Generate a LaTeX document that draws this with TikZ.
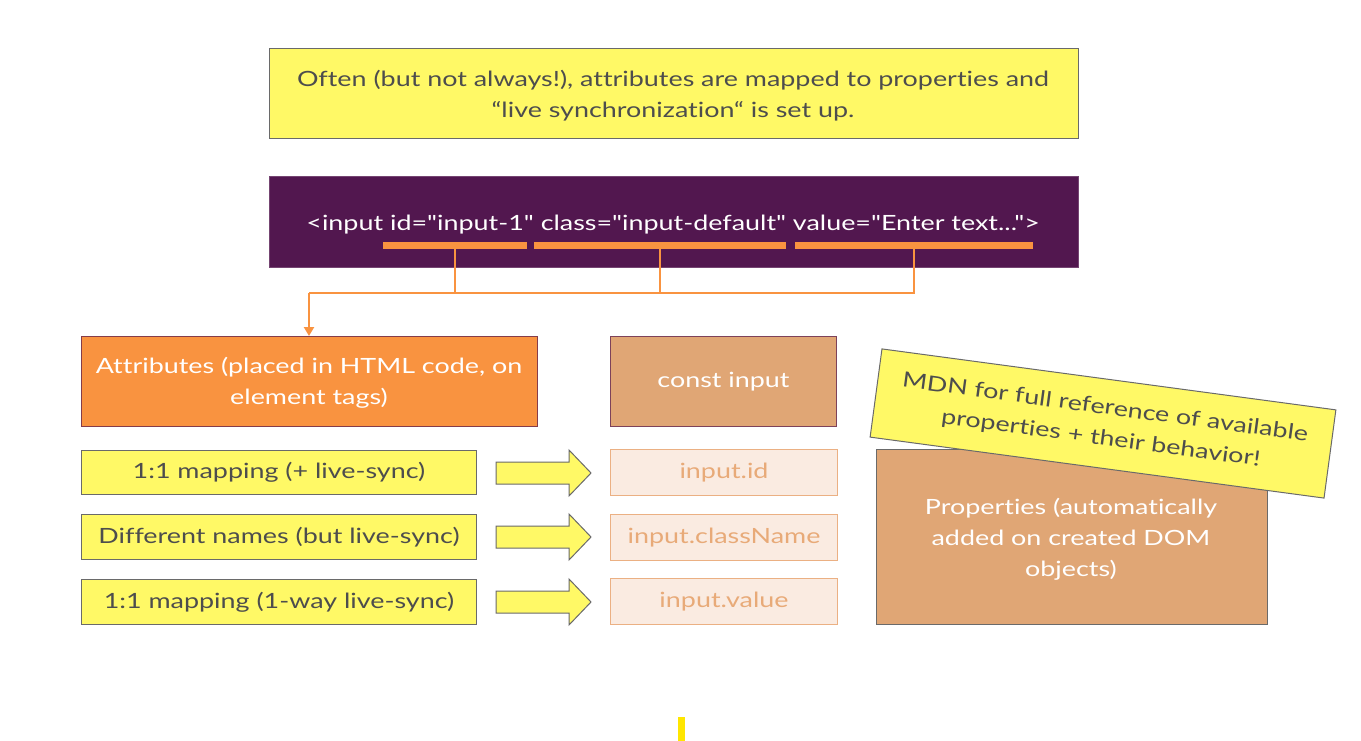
\documentclass[tikz,border=0pt]{standalone}
\usepackage{fontspec}
\setmainfont{Lato}[FakeStretch=1.28, RawFeature={-liga;-clig;-dlig;-calt}]
\newfontfamily\codefont{Lato}[FakeStretch=1.28, Ligatures=TeXOff, RawFeature={-liga;-clig;-dlig;-calt}]
\usetikzlibrary{arrows.meta,calc}
\definecolor{yel}{HTML}{FFF966}
\definecolor{gborder}{HTML}{6A6A6A}
\definecolor{purp}{HTML}{52174F}
\definecolor{orng}{HTML}{F99340}
\definecolor{tanfill}{HTML}{E0A675}
\definecolor{lightp}{HTML}{FAEBE1}
\definecolor{lightb}{HTML}{EBB083}
\definecolor{lightt}{HTML}{E8AA78}
\definecolor{dtext}{HTML}{4D4D4D}
\definecolor{ybarcol}{HTML}{FFE600}
\begin{document}
\begin{tikzpicture}[x=1pt,y=-1pt,
  box/.style={draw, line width=1pt, inner sep=0pt, minimum width=#1, anchor=north west, align=center},
  txt/.style={font=\fontsize{21}{31}\selectfont},
  note/.style={box=#1, fill=yel, draw=gborder, text=dtext, txt},
  prop/.style={box=#1, fill=lightp, draw=lightb, text=lightt, txt, minimum height=46pt},
  barstyle/.style={fill=orng, inner sep=0pt, minimum height=7pt, anchor=north west, minimum width=#1},
  conn/.style={draw=orng, line width=2.5pt},
  blockarrow/.style={fill=yel, draw=gborder, line width=1pt, line join=miter}
]
\useasboundingbox (0,0) rectangle (1361,741);
\fill[white] (0,0) rectangle (1361,741);

% top note
\node[note=809pt, minimum height=90pt] (top) at (269,48) {};
\node[text=dtext, txt, align=center] (toptxt) at (673,95.5)
  {Often (but not always!), attributes are mapped to properties and\\ “live synchronization“ is set up.};

% code box
\node[box=809pt, minimum height=91pt, fill=purp, draw=purp!80!white] (code) at (269,176) {};
\node[text=white, font=\codefont\fontsize{21}{31}\selectfont, anchor=base] (codetxt) at (673,230)
  {<input id="input-1" class="input-default" value="Enter text...">};
\node[barstyle=144pt] (bar1) at (383,242) {};
\node[barstyle=252pt] (bar2) at (534,242) {};
\node[barstyle=238pt] (bar3) at (795,242) {};

% attribute / const boxes
\node[box=456pt, minimum height=90pt, fill=orng, draw=purp!70!orng, text=white, txt] (attr) at (81,336) {};
\node[text=white, txt, align=center] (attrtxt) at (309,382.5)
  {Attributes (placed in HTML code, on\\ element tags)};
\node[box=226pt, minimum height=90pt, fill=tanfill, draw=purp!70!tanfill, text=white, txt] (const) at (610,336)
  {const input};

% connectors
\coordinate (j) at (309,293);
\draw[conn] (bar1.south) -- (bar1.south |- j);
\draw[conn] (bar2.south) -- (bar2.south |- j);
\draw[conn] (bar3.south) |- (j);
\draw[conn, -{Triangle[length=9pt,width=10pt]}] (j) -- (j |- attr.north);

% rows
\node[note=395pt, minimum height=44pt] (r1) at (81,450) {1:1 mapping (+ live-sync)};
\node[note=395pt, minimum height=45pt] (r2) at (81,514) {Different names (but live-sync)};
\node[note=395pt, minimum height=45pt] (r3) at (81,579) {1:1 mapping (1-way live-sync)};

\node[prop=227pt] (p1) at (610,449) {input.id};
\node[prop=227pt] (p2) at (610,514) {input.className};
\node[prop=227pt] (p3) at (610,578) {input.value};

% block arrows
\foreach \c in {473,537,602}{
  \draw[blockarrow] (496,\c-11) -- (569,\c-11) -- (569,\c-23) -- (591,\c) -- (569,\c+23) -- (569,\c+11) -- (496,\c+11) -- cycle;
}

% properties box
\node[box=391pt, minimum height=175pt, fill=tanfill, draw=gborder] (props) at (876,449) {};
\node[text=white, txt, align=center] (propstxt) at (1071,539)
  {Properties (automatically\\ added on created DOM\\ objects)};

% rotated note
\node[fill=yel, draw=gborder, line width=1pt, text=dtext, minimum width=458pt, minimum height=89pt,
  inner sep=0pt, align=center, rotate=-7.65, txt] (mdn) at (1103,423.5)
  {MDN for full reference of available\\ properties + their behavior!};

% small yellow bar at bottom
\fill[fill=ybarcol] (678,717) rectangle (685,741);
\end{tikzpicture}
\end{document}
